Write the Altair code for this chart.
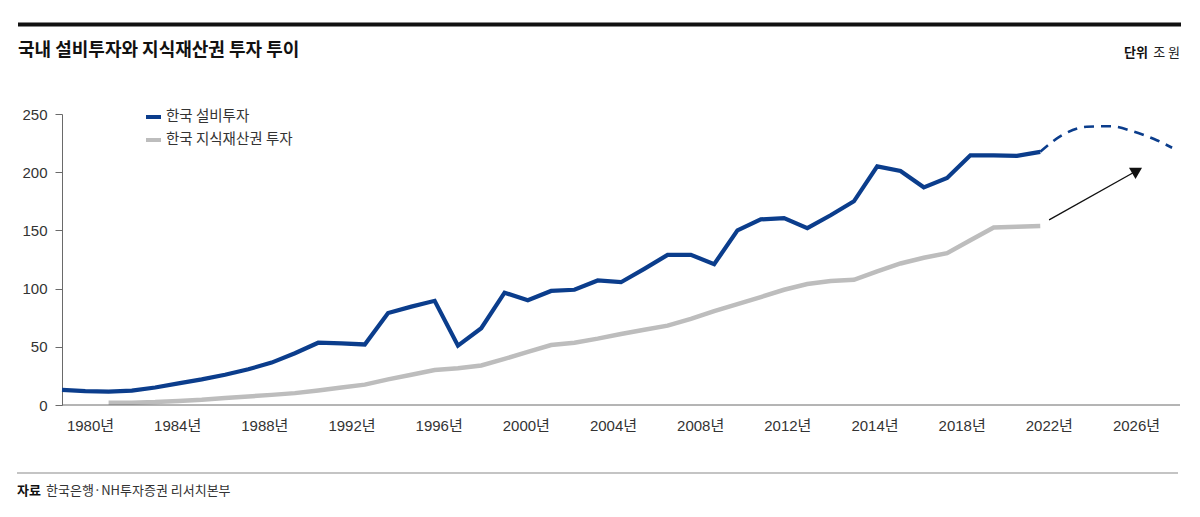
import altair as alt
import pandas as pd

# ---------------- data ----------------
title_text = "국내 설비투자와 지식재산권 투자 투이"
unit_bold = "단위"
unit_text = "조 원"
source_bold = "자료"
source_text = "한국은행·NH투자증권 리서치본부"
series_names = ["한국 설비투자", "한국 지식재산권 투자"]

capex_years = list(range(1980, 2023))
capex_values = [13, 12, 11.5, 12.3, 15, 18.6, 22, 26, 30.7, 36.4,
                44.5, 53.5, 53, 52, 79, 84.5, 89.5, 51, 66, 96.5,
                90, 98, 99, 107, 105.5, 117, 129, 129, 121, 150,
                159.5, 160.5, 152, 163, 175, 205, 201, 187, 195, 214.5,
                214.5, 214, 217.5]

ip_years = list(range(1982, 2023))
ip_values = [2, 2, 2.5, 3.5, 4.5, 6, 7.3, 8.7, 10.2, 12.5,
             15, 17.5, 22, 26, 30, 31.5, 34, 39.6, 45.6, 51.5,
             53.5, 57, 61, 64.6, 68.2, 74, 80.7, 86.7, 92.7, 99,
             104, 106.5, 107.5, 114.8, 121.6, 126.5, 130.5, 141.5, 152.5, 153.2,
             153.8]

forecast_years = [2022, 2023, 2024, 2025, 2026, 2027, 2027.66]
forecast_values = [217.5, 232.5, 239, 239.5, 235, 227.5, 221]

arrow_years = [2022.38, 2026.16]
arrow_values = [159, 201.5]

x_tick_labels = ["1980년", "1984년", "1988년", "1992년", "1996년", "2000년", "2004년",
                 "2008년", "2012년", "2014년", "2018년", "2022년", "2026년"]
y_ticks = [0, 50, 100, 150, 200, 250]

# ---------------- style ----------------
W, H = 1118, 291
BLUE = "#0b3d8c"
GRAY = "#bdbdbd"
AXIS_GRAY = "#6a6a6a"
KFONT = "Noto Sans CJK KR"
NFONT = "Liberation Sans, Noto Sans CJK KR"

xs = alt.Scale(domain=[1980, 2028], nice=False, zero=False)
ys = alt.Scale(domain=[0, 250], nice=False)

one = pd.DataFrame({"k": [0]})
capex = pd.DataFrame({"year": capex_years, "value": capex_values})
ip = pd.DataFrame({"year": ip_years, "value": ip_values})
fc = pd.DataFrame({"year": forecast_years, "value": forecast_values})
arrow = pd.DataFrame({"x": [arrow_years[0]], "y": [arrow_values[0]],
                      "x2": [arrow_years[1]], "y2": [arrow_values[1]]})

yaxis = alt.Axis(values=y_ticks, title=None, grid=False, tickSize=7,
                 tickColor=AXIS_GRAY, domainColor=AXIS_GRAY, labelFont=NFONT,
                 labelFontSize=15, labelColor="#333", labelPadding=8)

gray_line = alt.Chart(ip).mark_line(color=GRAY, strokeWidth=4.5).encode(
    x=alt.X("year:Q", scale=xs, axis=None),
    y=alt.Y("value:Q", scale=ys, axis=yaxis),
)
blue_line = alt.Chart(capex).mark_line(color=BLUE, strokeWidth=4.2).encode(
    x=alt.X("year:Q", scale=xs, axis=None),
    y=alt.Y("value:Q", scale=ys),
)
dashed = alt.Chart(fc).mark_line(color=BLUE, strokeWidth=2.6, strokeDash=[10, 7],
                                 interpolate="monotone").encode(
    x=alt.X("year:Q", scale=xs, axis=None),
    y=alt.Y("value:Q", scale=ys),
)
arrow_line = alt.Chart(arrow).mark_rule(color="#111", strokeWidth=1.3).encode(
    x=alt.X("x:Q", scale=xs, axis=None), x2="x2:Q",
    y=alt.Y("y:Q", scale=ys), y2="y2:Q",
)
arrow_head = alt.Chart(arrow).mark_point(shape="triangle-right", filled=True, color="#111",
                                         size=170, angle=330, opacity=1).encode(
    x=alt.X("x2:Q", scale=xs, axis=None),
    y=alt.Y("y2:Q", scale=ys),
)

baseline = alt.Chart(one).mark_rule(color=AXIS_GRAY, strokeWidth=1).encode(
    x=alt.value(0), x2=alt.value(W), y=alt.value(H))

xaxis_layer = alt.Chart(pd.DataFrame({"label": x_tick_labels})).mark_point(opacity=0).encode(
    x=alt.X("label:N", sort=x_tick_labels,
            scale=alt.Scale(type="point", range=[28, 1074], padding=0),
            axis=alt.Axis(orient="bottom", title=None, ticks=False, domain=False,
                          labelAngle=0, labelFont=NFONT, labelFontSize=15,
                          labelColor="#333", labelPadding=13)),
)

# legend
legend_layers = []
legend_colors = [BLUE, GRAY]
for i, name in enumerate(series_names):
    yy = 3 + 23 * i
    legend_layers.append(alt.Chart(one).mark_rule(color=legend_colors[i], strokeWidth=4).encode(
        x=alt.value(84), x2=alt.value(99), y=alt.value(yy)))
    legend_layers.append(alt.Chart(one).mark_text(text=name, align="left", baseline="middle",
                                                  font=KFONT, fontSize=14.5, color="#333").encode(
        x=alt.value(104), y=alt.value(yy)))

# header / footer
top_rule = alt.Chart(one).mark_rule(color="#111", strokeWidth=4).encode(
    x=alt.value(-44), x2=alt.value(1119), y=alt.value(-89.5))
title = alt.Chart(one).mark_text(text=title_text, align="left", baseline="middle", font=KFONT,
                                 fontSize=18, fontWeight="bold", color="#111").encode(
    x=alt.value(-44), y=alt.value(-63))
unit_r = alt.Chart(one).mark_text(text=unit_text, align="right", baseline="middle", font=KFONT,
                                  fontSize=13, color="#222").encode(
    x=alt.value(1118), y=alt.value(-61))
unit_l = alt.Chart(one).mark_text(text=unit_bold, align="right", baseline="middle", font=KFONT,
                                  fontSize=13, fontWeight="bold", color="#111").encode(
    x=alt.value(1086), y=alt.value(-61))
bottom_rule = alt.Chart(one).mark_rule(color="#8a8a8a", strokeWidth=1.2).encode(
    x=alt.value(-45), x2=alt.value(1116), y=alt.value(359))
src_l = alt.Chart(one).mark_text(text=source_bold, align="left", baseline="middle", font=KFONT,
                                 fontSize=13, fontWeight="bold", color="#111").encode(
    x=alt.value(-45), y=alt.value(377))
src_r = alt.Chart(one).mark_text(text=source_text, align="left", baseline="middle", font=KFONT,
                                 fontSize=13, color="#333").encode(
    x=alt.value(-16), y=alt.value(377))

chart = alt.layer(
    gray_line, blue_line, dashed, arrow_line, arrow_head, baseline, xaxis_layer,
    *legend_layers, top_rule, title, unit_r, unit_l, bottom_rule, src_l, src_r,
).resolve_scale(x="independent").properties(
    width=W, height=H,
    padding={"left": 54, "top": 106, "right": 10, "bottom": 100},
    autosize=alt.AutoSizeParams(type="none"),
    background="white",
).configure_view(stroke=None)

chart.save("out.html", embed_options={"renderer": "svg", "actions": False})
